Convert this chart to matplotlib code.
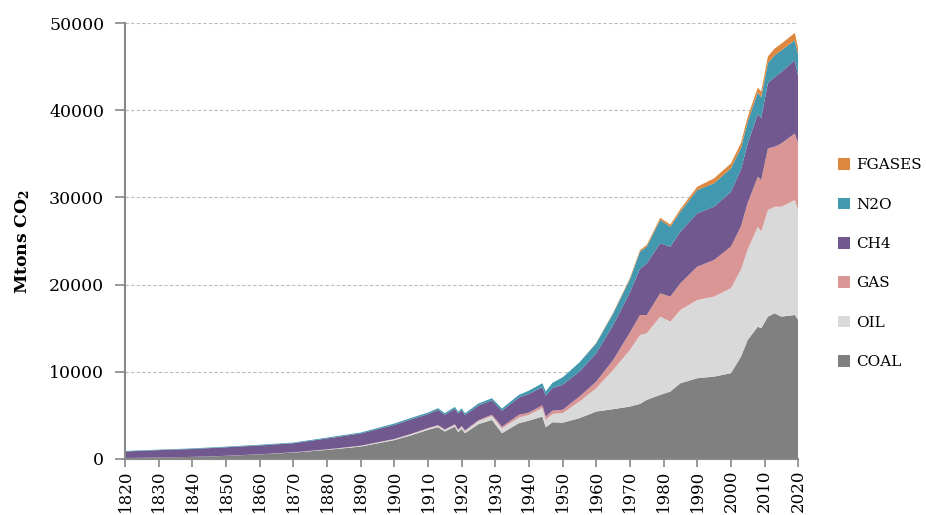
import matplotlib
matplotlib.use("Agg")
import matplotlib.pyplot as plt
from matplotlib.patches import Patch

plt.rcParams["font.family"] = ["DejaVu Serif"]
plt.rcParams["mathtext.fontset"] = "dejavuserif"

# ##################### DATA (Mtons CO2 eq) #####################
years = [1820, 1830, 1840, 1850, 1860, 1870, 1880, 1890,
         1900, 1905, 1910, 1913, 1915, 1918, 1919, 1920, 1921,
         1925, 1929, 1932, 1937, 1940, 1944, 1945, 1947,
         1950, 1955, 1960, 1965, 1970, 1973, 1975, 1979, 1982, 1985,
         1990, 1995, 2000, 2003, 2005, 2008, 2009, 2011, 2013, 2015, 2019, 2020]

coal = [100, 150, 230, 340, 520, 720, 1030, 1410,
        2150, 2700, 3330, 3640, 3140, 3700, 3050, 3450, 2950,
        3980, 4470, 2950, 4090, 4390, 4850, 3640, 4200,
        4150, 4670, 5430, 5700, 6000, 6310, 6770, 7340, 7720, 8680,
        9250, 9440, 9830, 11730, 13650, 15170, 14990, 16320, 16710, 16320, 16510, 15940]

oil = [0, 0, 0, 10, 10, 30, 50, 80,
       100, 130, 150, 170, 180, 200, 220, 250, 230,
       350, 450, 550, 650, 660, 1000, 830, 950,
       1100, 1900, 2680, 4500, 6500, 7900, 7640, 8980, 8030, 8410,
       8980, 9180, 9750, 10000, 10400, 11470, 11080, 12230, 12230, 12620, 13190, 12610]

gas = [0, 0, 0, 0, 0, 0, 10, 20,
       30, 40, 50, 60, 60, 70, 70, 80, 80,
       100, 150, 200, 310, 260, 300, 380, 380,
       380, 580, 760, 1140, 2000, 2300, 2100, 2680, 2870, 3060,
       3820, 4200, 4770, 4970, 5340, 5740, 5930, 7080, 6880, 7260, 7650, 7650]

ch4 = [750, 850, 900, 980, 1010, 1040, 1250, 1400,
       1610, 1660, 1600, 1750, 1670, 1790, 1860, 1820, 1780,
       1690, 1640, 1830, 1990, 2140, 2080, 2420, 2600,
       2870, 2860, 3250, 4000, 4600, 5300, 5930, 5740, 5730, 5920,
       6130, 6120, 6300, 6500, 6800, 7200, 7100, 7500, 8000, 8200, 8400, 7650]

n2o = [50, 60, 70, 70, 80, 80, 100, 110,
       160, 170, 180, 190, 190, 200, 200, 200, 200,
       230, 250, 250, 300, 380, 450, 450, 600,
       850, 1050, 1150, 1340, 1500, 1950, 1910, 2670, 2290, 2290,
       2670, 2680, 2680, 2490, 2500, 2470, 2400, 2300, 2500, 2480, 2290, 2500]

fgases = [0, 0, 0, 0, 0, 0, 0, 0,
          0, 0, 0, 0, 0, 0, 0, 0, 0,
          0, 0, 0, 0, 0, 0, 0, 0,
          0, 0, 50, 80, 150, 200, 200, 250, 250, 300,
          380, 570, 570, 570, 580, 570, 650, 750, 770, 770, 850, 700]

labels = ["COAL", "OIL", "GAS", "CH4", "N2O", "FGASES"]
colors = ["#808080", "#d9d9d9", "#da9694", "#71588f", "#4198af", "#dd883e"]

# ##################### PLOT #####################
fig = plt.figure(figsize=(9.26, 5.15), dpi=100)
ax = fig.add_axes([0.135, 0.109, 0.727, 0.846])

ax.stackplot(years, coal, oil, gas, ch4, n2o, fgases, colors=colors, linewidth=0)

ax.set_xlim(1820, 2020)
ax.set_ylim(0, 50000)
ax.set_xticks(range(1820, 2021, 10))
ax.set_yticks(range(0, 50001, 10000))
ax.tick_params(axis="x", labelrotation=90, labelsize=12, length=6, pad=2,
               color="#888888", width=1.2)
ax.tick_params(axis="y", labelsize=12.5, length=7, pad=8, color="#888888", width=1.2)

for side in ["top", "right"]:
    ax.spines[side].set_visible(False)
for side in ["left", "bottom"]:
    ax.spines[side].set_color("#888888")
    ax.spines[side].set_linewidth(1.5)

ax.yaxis.grid(True, linestyle=(0, (3, 2)), color="#bbbbbb", linewidth=0.8)
ax.set_axisbelow(True)

ax.set_ylabel(r"$\mathbf{Mtons\ CO_2}$", fontsize=12.5, labelpad=12)

handles = [Patch(facecolor=c, edgecolor="none") for c in colors][::-1]
fig.legend(handles, labels[::-1], loc="center left", bbox_to_anchor=(0.89, 0.488),
           frameon=False, fontsize=11, handlelength=0.8, handleheight=0.8,
           handletextpad=0.4, labelspacing=1.65)

fig.savefig("out.png", dpi=100)
